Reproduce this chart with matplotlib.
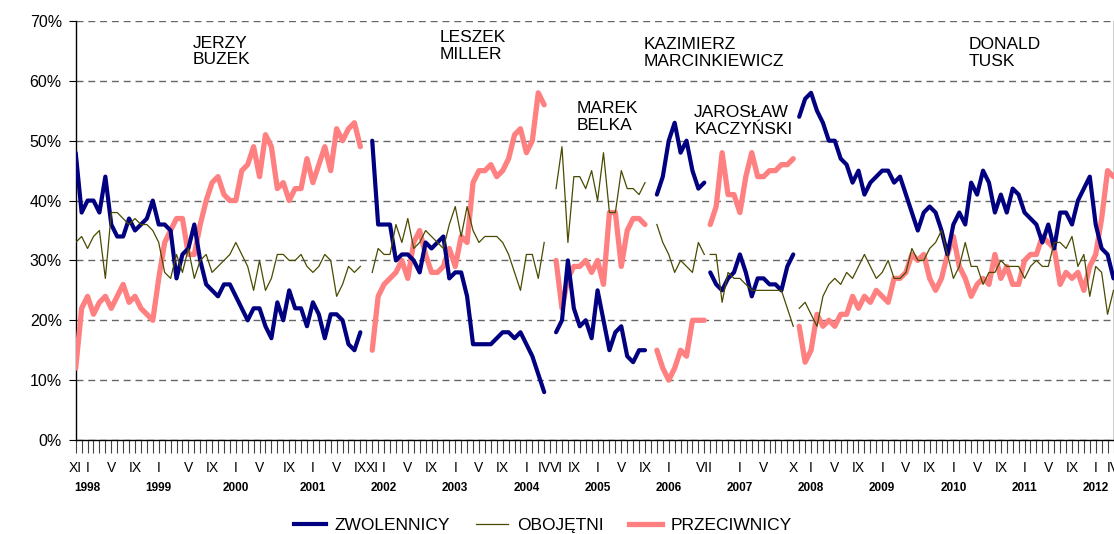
import matplotlib
matplotlib.use("Agg")
import matplotlib.pyplot as plt
import matplotlib.transforms as mtransforms
from matplotlib.lines import Line2D

plt.rcParams['font.family'] = ['Liberation Sans', 'DejaVu Sans']

# one category per month from XI 1997; a new line starts with each government
segment_start = [0, 50, 81, 98, 107, 122]
premiers = ['JERZY\nBUZEK', 'LESZEK\nMILLER', 'MAREK\nBELKA',
            'KAZIMIERZ\nMARCINKIEWICZ', 'JAROSŁAW\nKACZYŃSKI', 'DONALD\nTUSK']

zwolennicy = [
    [48, 38, 40, 40, 38, 44, 36, 34, 34, 37, 35, 36, 37, 40, 36, 36, 35, 27, 31, 32,
     36, 30, 26, 25, 24, 26, 26, 24, 22, 20, 22, 22, 19, 17, 23, 20, 25, 22, 22, 19,
     23, 21, 17, 21, 21, 20, 16, 15, 18],
    [50, 36, 36, 36, 30, 31, 31, 30, 28, 33, 32, 33, 34, 27, 28, 28, 24, 16, 16, 16,
     16, 17, 18, 18, 17, 18, 16, 14, 11, 8],
    [18, 20, 30, 22, 19, 20, 17, 25, 20, 15, 18, 19, 14, 13, 15, 15],
    [41, 44, 50, 53, 48, 50, 45, 42, 43],
    [28, 26, 25, 27, 28, 31, 28, 24, 27, 27, 26, 26, 25, 29, 31],
    [54, 57, 58, 55, 53, 50, 50, 47, 46, 43, 45, 41, 43, 44, 45, 45, 43, 44, 41, 38,
     35, 38, 39, 38, 35, 31, 36, 38, 36, 43, 41, 45, 43, 38, 41, 38, 42, 41, 38, 37,
     36, 33, 36, 32, 38, 38, 36, 40, 42, 44, 36, 32, 31, 27],
]

obojetni = [
    [33, 34, 32, 34, 35, 27, 38, 38, 37, 36, 37, 36, 36, 35, 33, 28, 27, 31, 28, 32,
     27, 30, 31, 28, 29, 30, 31, 33, 31, 29, 25, 30, 25, 27, 31, 31, 30, 30, 31, 29,
     28, 29, 31, 30, 24, 26, 29, 28, 29],
    [28, 32, 31, 31, 36, 33, 37, 32, 33, 35, 34, 33, 32, 36, 39, 34, 39, 35, 33, 34,
     34, 34, 33, 31, 28, 25, 31, 31, 27, 33],
    [42, 49, 33, 44, 44, 42, 45, 40, 48, 38, 38, 45, 42, 42, 41, 43],
    [36, 33, 31, 28, 30, 29, 28, 33, 31],
    [31, 31, 23, 28, 27, 27, 26, 25, 25, 25, 25, 25, 25, 22, 19],
    [22, 23, 21, 19, 24, 26, 27, 26, 28, 27, 29, 31, 29, 27, 28, 30, 27, 27, 28, 32,
     30, 30, 32, 33, 35, 31, 27, 29, 33, 29, 29, 26, 28, 28, 30, 29, 29, 29, 27, 29,
     30, 29, 29, 33, 33, 32, 34, 29, 31, 24, 29, 28, 21, 25],
]

przeciwnicy = [
    [12, 22, 24, 21, 23, 24, 22, 24, 26, 23, 24, 22, 21, 20, 27, 33, 35, 37, 37, 31,
     31, 36, 40, 43, 44, 41, 40, 40, 45, 46, 49, 44, 51, 49, 42, 43, 40, 42, 42, 47,
     43, 46, 49, 45, 52, 50, 52, 53, 49],
    [15, 24, 26, 27, 28, 30, 27, 33, 35, 31, 28, 28, 29, 32, 29, 34, 33, 43, 45, 45,
     46, 44, 45, 47, 51, 52, 48, 50, 58, 56],
    [30, 22, 27, 29, 29, 30, 28, 30, 26, 38, 38, 29, 35, 37, 37, 36],
    [15, 12, 10, 12, 15, 14, 20, 20, 20],
    [36, 39, 48, 41, 41, 38, 44, 48, 44, 44, 45, 45, 46, 46, 47],
    [19, 13, 15, 21, 19, 20, 19, 21, 21, 24, 22, 24, 23, 25, 24, 23, 27, 27, 28, 31,
     30, 31, 27, 25, 27, 31, 34, 29, 27, 24, 26, 27, 26, 31, 27, 29, 26, 26, 30, 31,
     31, 34, 33, 32, 26, 28, 27, 28, 25, 29, 31, 37, 45, 44],
]

month_pos = [0, 2, 6, 10, 14, 19, 23, 27, 31, 36, 40, 44, 48, 50, 52, 56, 60, 64, 68, 72,
             76, 79, 81, 84, 88, 92, 96, 100, 106, 112, 116, 121, 124, 128, 132, 136, 140,
             144, 148, 152, 156, 160, 164, 168, 172, 175]
month_lab = ['XI', 'I', 'V', 'IX', 'I', 'V', 'IX', 'I', 'V', 'IX', 'I', 'V', 'IX', 'XI', 'I',
             'V', 'IX', 'I', 'V', 'IX', 'I', 'IV', 'VI', 'IX', 'I', 'V', 'IX', 'I', 'VII', 'I',
             'V', 'X', 'I', 'V', 'IX', 'I', 'V', 'IX', 'I', 'V', 'IX', 'I', 'V', 'IX', 'I', 'IV']
year_pos = [2, 14, 27, 40, 52, 64, 76, 88, 100, 112, 124, 136, 148, 160, 172]
years = list(range(1998, 2013))

n_cat = 176

fig = plt.figure(figsize=(11.14, 5.34), dpi=100)
ax = fig.add_axes([75.7 / 1114, 1 - 440 / 534, (1113.5 - 75.7) / 1114, 419 / 534])

for start, zw, ob, pr in zip(segment_start, zwolennicy, obojetni, przeciwnicy):
    x = range(start, start + len(zw))
    ax.plot(x, pr, color='#ff8080', lw=3.8, solid_joinstyle='round', solid_capstyle='round', zorder=3)
    ax.plot(x, zw, color='#000080', lw=3.0, solid_joinstyle='round', solid_capstyle='round', zorder=4)
    ax.plot(x, ob, color='#4a4a00', lw=0.9, zorder=5)

ax.set_xlim(0, n_cat - 1)
ax.set_ylim(0, 70)
ax.set_yticks(range(0, 71, 10))
ax.set_yticklabels([f'{v}%' for v in range(0, 71, 10)], fontsize=11.5)
ax.tick_params(axis='y', length=5, width=0.8, pad=5, color='black')
ax.grid(axis='y', color='#666666', lw=1.0, linestyle=(0, (5, 3.5)))
ax.set_axisbelow(True)

ax.set_xticks(range(n_cat))
ax.set_xticklabels([])
ax.tick_params(axis='x', length=9, width=0.8, color='#444444')

ax.spines['top'].set_visible(False)
for s in ['left', 'bottom', 'right']:
    ax.spines[s].set_color('black')
    ax.spines[s].set_linewidth(1.0)

trans = mtransforms.blended_transform_factory(ax.transData, ax.transAxes)
for p, lab in zip(month_pos, month_lab):
    ax.text(p, -0.067, lab, transform=trans, ha='center', va='center', fontsize=10)
for p, y in zip(year_pos, years):
    ax.text(p, -0.115, str(y), transform=trans, ha='center', va='center',
            fontsize=8.5, fontweight='bold')

label_x = [19.8, 61.4, 84.4, 95.7, 104.3, 150.5]
label_y = [64.9, 65.8, 54.0, 64.7, 53.3, 64.7]
for name, lx, ly in zip(premiers, label_x, label_y):
    ax.text(lx, ly, name, ha='left', va='center', fontsize=12.5, linespacing=1.15)

handles = [Line2D([], [], color='#000080', lw=3.0),
           Line2D([], [], color='#4a4a00', lw=0.9),
           Line2D([], [], color='#ff8080', lw=3.8)]
fig.legend(handles, ['ZWOLENNICY', 'OBOJĘTNI', 'PRZECIWNICY'], loc='center',
           bbox_to_anchor=(0.487, 0.016), ncol=3, frameon=False, fontsize=12.5,
           handlelength=1.85, handletextpad=0.5, columnspacing=1.5)

fig.savefig('out.png', dpi=100)
